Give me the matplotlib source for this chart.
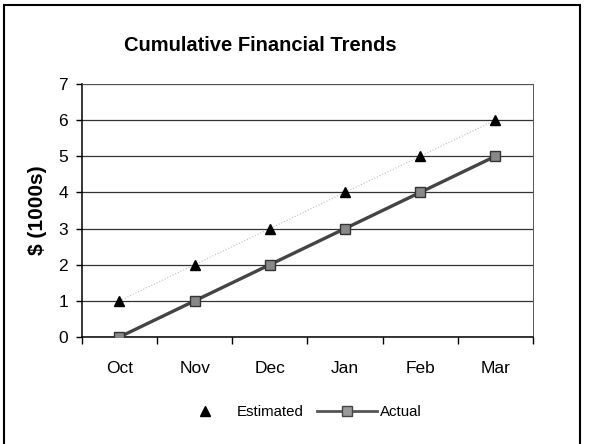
import numpy as np
import matplotlib.pyplot as plt
from matplotlib.lines import Line2D
from matplotlib.patches import Rectangle

# data
months = ['Oct', 'Nov', 'Dec', 'Jan', 'Feb', 'Mar']
estimated = [1, 2, 3, 4, 5, 6]
actual = [0, 1, 2, 3, 4, 5]

plt.rcParams['font.family'] = ['Liberation Sans', 'DejaVu Sans']

fig = plt.figure(figsize=(5.89, 4.44), dpi=100)
ax = fig.add_axes([0.139, 0.241, 0.766, 0.570])

x = np.arange(len(months))

# estimated - markers only with faint dotted trace
ax.plot(x, estimated, linestyle=':', color='#bbbbbb', linewidth=0.8, zorder=2)
ax.plot(x, estimated, linestyle='none', marker='^', markersize=7,
        color='black', zorder=4)

# actual
ax.plot(x, actual, color='#444444', linewidth=2.4, marker='s', markersize=7,
        markerfacecolor='#888888', markeredgecolor='#333333', zorder=3)

ax.set_xlim(-0.5, 5.5)
ax.set_ylim(0, 7)
ax.set_yticks(range(0, 8))
ax.set_xticks(x)
ax.set_xticklabels(months)
ax.set_xticks(np.arange(-0.5, 6, 1), minor=True)
ax.tick_params(axis='x', which='major', length=0, pad=17, labelsize=12.5)
ax.tick_params(axis='x', which='minor', length=5, width=1, direction='out')
ax.tick_params(axis='y', length=4, width=1, labelsize=12.5, pad=6)

ax.yaxis.grid(True, color='#333333', linewidth=0.9)
ax.set_axisbelow(True)
for s in ['top', 'right']:
    ax.spines[s].set_linewidth(0.7)
    ax.spines[s].set_color('#555555')
for s in ['left', 'bottom']:
    ax.spines[s].set_linewidth(1.1)

ax.set_ylabel('$ (1000s)', fontsize=15, fontweight='bold', labelpad=8)
fig.text(0.442, 0.898, 'Cumulative Financial Trends', ha='center', va='center',
         fontsize=14.5, fontweight='bold')

# legend
handles = [Line2D([], [], linestyle='none', marker='^', color='black', markersize=7),
           Line2D([], [], color='#555555', linewidth=2, marker='s', markersize=7,
                  markerfacecolor='#999999', markeredgecolor='#444444')]
fig.legend(handles, ['Estimated', 'Actual'], loc='center', bbox_to_anchor=(0.506, 0.072),
           ncol=2, frameon=False, fontsize=10.8, handlelength=4, columnspacing=0.9,
           handletextpad=0.15)

# outer frame
fig.patches.append(Rectangle((0.007, -0.05), 0.978, 1.039, transform=fig.transFigure,
                             fill=False, edgecolor='black', linewidth=1.5))

fig.savefig('out.png', dpi=100)
